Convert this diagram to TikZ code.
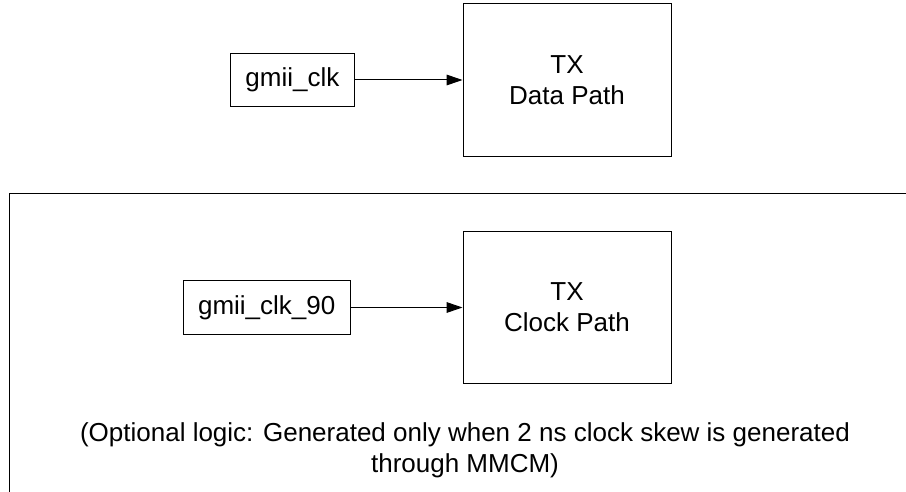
\documentclass[tikz,border=0pt]{standalone}
\usepackage{fontspec}
\setmainfont{Liberation Sans}
\usepackage{tikz}
\usetikzlibrary{arrows.meta, positioning}

\begin{document}
\begin{tikzpicture}[
      x=0.75pt, y=-0.75pt,
      font=\fontsize{19.5}{23.25}\selectfont,
      node distance = 0.6cm and 81pt,
      pathbox/.style = {draw, line width=0.75pt, minimum width=156pt,
                        minimum height=114pt, align=center},
      clkbox/.style  = {draw, line width=0.75pt, inner xsep=11pt,
                        minimum height=40pt, align=center},
      arr/.style     = {-{Triangle[length=12pt, width=8pt]}, line width=0.75pt}
    ]
    \useasboundingbox (0,0) rectangle (906,492);

    % ---- TOP: data path ----
    \node[pathbox] (datapath) at (567,80) {TX\\Data Path};
    \node[clkbox, left=81pt of datapath] (gmiiclk) {gmii\_clk};

    % ---- BOTTOM: optional clock path ----
    \node[pathbox] (clkpath) at (567,307.5) {TX\\Clock Path};
    \node[clkbox, left=84pt of clkpath] (gmiiclk90) {gmii\_clk\_90};
    \node[align=center] (note) at (465,450)
        {(Optional logic: Generated only when 2 ns clock skew is generated\\through MMCM)};

    % ---- open frame round the optional logic ----
    \coordinate (framesw) at (9,492);
    \coordinate (framene) at (906,193);
    \draw[line width=0.75pt] (framesw) |- (framene);

    % ---- arrows ----
    \draw[arr] (gmiiclk)   -- (datapath);
    \draw[arr] (gmiiclk90) -- (clkpath);

  \end{tikzpicture}
\end{document}
